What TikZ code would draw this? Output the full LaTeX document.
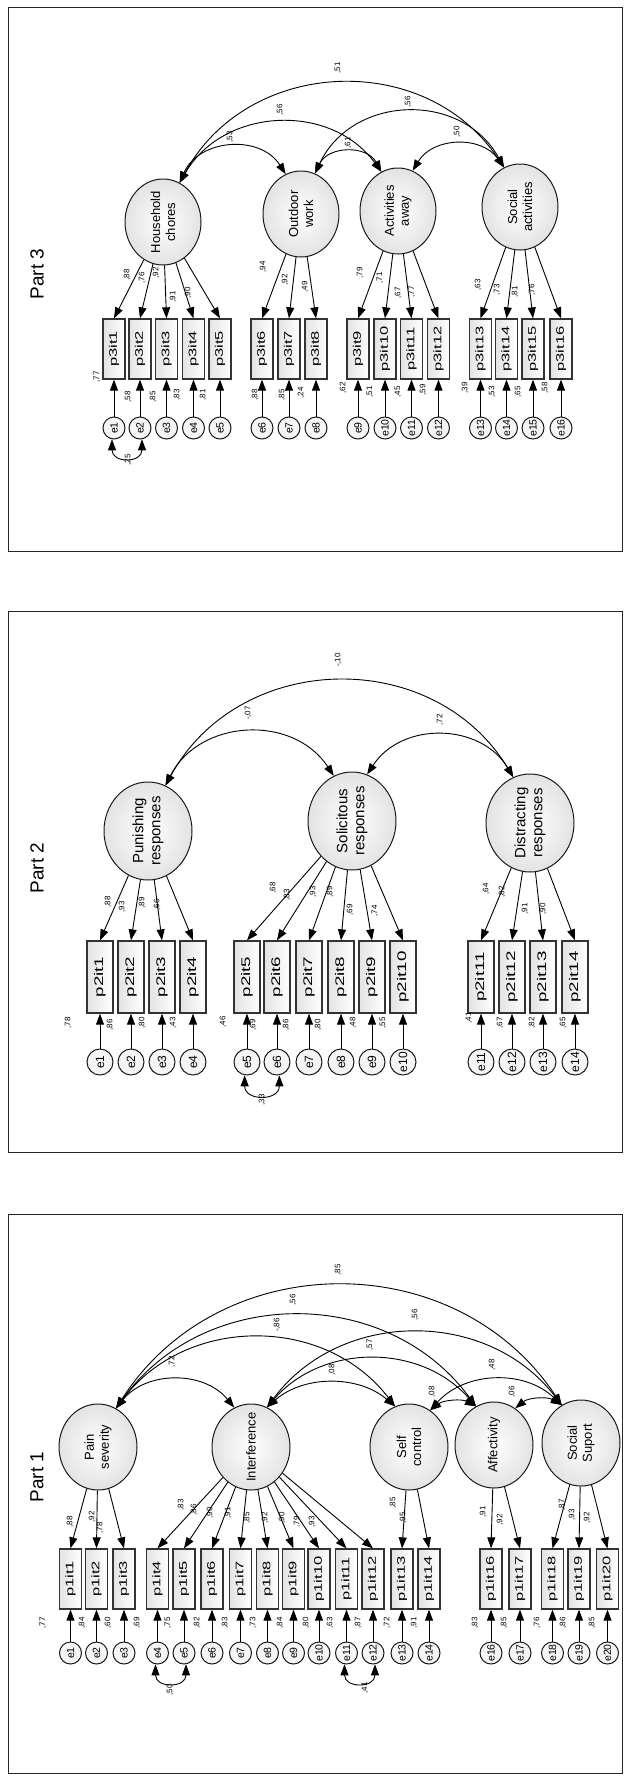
\documentclass[tikz,border=0pt]{standalone}
\usepackage{fontspec}
\setmainfont{Liberation Sans}
\usepackage{graphicx}
\usetikzlibrary{shapes.geometric,arrows.meta}
\newcommand\putlab[4]{\node[lbl,rotate=90] (#1) at (#2,-#3) {#4};}
\newcommand\bxa[1]{\rotatebox{90}{\scalebox{1.5}[1]{#1}}}
\begin{document}
\begin{tikzpicture}[x=1pt,y=1pt,
 frame/.style={draw=black!85,line width=0.9pt},
 part/.style={rotate=90,inner sep=0pt,font=\fontsize{19}{22}\selectfont},
 lbl/.style={inner sep=0pt,font=\fontsize{8}{9}\selectfont},
 latbase/.style={ellipse,draw=black!90,line width=1pt,inner sep=0pt,inner color=white,outer color=gray!22},
 lat3/.style={latbase,minimum width=76pt,minimum height=86pt},
 lat2/.style={latbase,minimum width=88pt,minimum height=98pt},
 lat1/.style={latbase,minimum width=78pt,minimum height=86pt},
 lt3/.style={rotate=90,align=center,inner sep=0pt,font=\fontsize{13}{15}\selectfont},
 lt2/.style={rotate=90,align=center,inner sep=0pt,font=\fontsize{15}{17}\selectfont},
 lt1/.style={rotate=90,align=center,inner sep=0pt,font=\fontsize{13}{15}\selectfont},
 obsbase/.style={rectangle,draw=black!80,line width=1.3pt,inner sep=0pt,left color=gray!22,right color=white},
 obs3/.style={obsbase,minimum width=22pt,minimum height=60pt,font=\fontsize{11}{12}\selectfont},
 obs2/.style={obsbase,minimum width=26pt,minimum height=72pt,font=\fontsize{12.5}{14}\selectfont},
 obs1/.style={obsbase,minimum width=22pt,minimum height=60pt,font=\fontsize{11}{12}\selectfont},
 errbase/.style={circle,draw=black!90,line width=1pt,inner sep=0pt,fill=gray!8},
 err3/.style={errbase,minimum size=22pt,font=\fontsize{10.5}{11}\selectfont},
 err2/.style={errbase,minimum size=26pt,font=\fontsize{12}{13}\selectfont},
 err1/.style={errbase,minimum size=22pt,font=\fontsize{10.5}{11}\selectfont},
 ld/.style={-{Triangle[length=11pt,width=8pt]},line width=0.9pt},
 cov/.style={{Triangle[length=11pt,width=8pt]}-{Triangle[length=11pt,width=8pt]},line width=0.9pt}
]
\useasboundingbox (0,0) rectangle (630,-1780);

% ================= PART 3 =================
\draw[frame] (8,-7) rectangle (622,-551);
\node[part] (P3) at (37,-274) {Part 3};
\node[lat3] (HC) at (163,-222) {};
\node[lt3] (HCt) at (HC) {Household\\chores};
\node[lat3] (OW) at (301,-214) {};
\node[lt3] (OWt) at (OW) {Outdoor\\work};
\node[lat3] (AA) at (398,-211) {};
\node[lt3] (AAt) at (AA) {Activities\\away};
\node[lat3] (SA) at (520,-207) {};
\node[lt3] (SAt) at (SA) {Social\\activities};
\foreach \i/\xx in {1/114,2/140,3/166.5,4/193.5,5/220,6/262,7/289,8/316,9/358,10/385,11/411.5,12/438.5,13/480.5,14/506.5,15/533,16/561}{
  \node[obs3] (c-b\i) at (\xx,-349) {\bxa{p3it\i}};
  \node[err3] (c-e\i) at (\xx,-428) {\rotatebox{90}{e\i}};
  \draw[ld] (c-e\i) -- (c-b\i);
}
\foreach \i in {1,...,5}{\draw[ld] (HC) -- (c-b\i.north);}
\foreach \i in {6,7,8}{\draw[ld] (OW) -- (c-b\i.north);}
\foreach \i in {9,...,12}{\draw[ld] (AA) -- (c-b\i.north);}
\foreach \i in {13,...,16}{\draw[ld] (SA) -- (c-b\i.north);}
\draw[cov] (HC.67) to[bend left=62,looseness=1.15] (OW.111);
\draw[cov] (HC.67) to[bend left=57,looseness=1.1] (AA.113);
\draw[cov] (HC.67) to[bend left=59,looseness=1.12] (SA.112);
\draw[cov] (OW.71) to[bend left=63,looseness=1.18] (AA.113);
\draw[cov] (OW.71) to[bend left=63,looseness=1.18] (SA.112);
\draw[cov] (AA.70) to[bend left=57,looseness=1.1] (SA.112);
\draw[cov] (c-e1.-100) .. controls +(0,-24) and +(0,-24) .. (c-e2.-80);
\putlab{c-a1}{230}{137}{,53}
\putlab{c-a2}{280}{110}{,56}
\putlab{c-a3}{338}{68}{,51}
\putlab{c-a4}{348}{143}{,61}
\putlab{c-a5}{408}{102}{,56}
\putlab{c-a6}{457}{132}{,50}
\putlab{c-l1}{127}{275}{,88}
\putlab{c-l2}{142}{278}{,76}
\putlab{c-l3}{156}{273}{,92}
\putlab{c-l4}{173}{297}{,91}
\putlab{c-l5}{188}{293}{,90}
\putlab{c-l6}{263}{267}{,94}
\putlab{c-l7}{285}{280}{,92}
\putlab{c-l8}{305}{287}{,49}
\putlab{c-l9}{360}{273}{,79}
\putlab{c-l10}{380}{278}{,71}
\putlab{c-l11}{398}{293}{,67}
\putlab{c-l12}{412}{292}{,77}
\putlab{c-l13}{478}{285}{,63}
\putlab{c-l14}{497}{290}{,73}
\putlab{c-l15}{515}{292}{,81}
\putlab{c-l16}{532}{290}{,76}
\putlab{c-r1}{97}{377}{,77}
\putlab{c-r2}{128}{397}{,58}
\putlab{c-r3}{153}{397}{,85}
\putlab{c-r4}{177}{395}{,83}
\putlab{c-r5}{203}{395}{,81}
\putlab{c-r6}{255}{395}{,88}
\putlab{c-r7}{282}{395}{,85}
\putlab{c-r8}{301}{393}{,24}
\putlab{c-r9}{343}{388}{,62}
\putlab{c-r10}{370}{392}{,51}
\putlab{c-r11}{398}{392}{,45}
\putlab{c-r12}{423}{390}{,59}
\putlab{c-r13}{465}{388}{,39}
\putlab{c-r14}{492}{392}{,53}
\putlab{c-r15}{518}{392}{,65}
\putlab{c-r16}{545}{388}{,58}
\putlab{c-c1}{128}{460}{,25}

% ================= PART 2 =================
\draw[frame] (8,-611) rectangle (622,-1152);
\node[part] (P2) at (37,-868) {Part 2};
\node[lat2] (PR) at (148,-831) {};
\node[lt2] (PRt) at (PR) {Punishing\\responses};
\node[lat2] (SR) at (352,-821) {};
\node[lt2] (SRt) at (SR) {Solicitous\\responses};
\node[lat2] (DR) at (530,-823) {};
\node[lt2] (DRt) at (DR) {Distracting\\responses};
\foreach \i/\xx in {1/100,2/131,3/162,4/193,5/247,6/277,7/309,8/341,9/372,10/403,11/481,12/512,13/543,14/575}{
  \node[obs2] (b-b\i) at (\xx,-977) {\bxa{p2it\i}};
  \node[err2] (b-e\i) at (\xx,-1062) {\rotatebox{90}{e\i}};
  \draw[ld] (b-e\i) -- (b-b\i);
}
\foreach \i in {1,...,4}{\draw[ld] (PR) -- (b-b\i.north);}
\foreach \i in {5,...,10}{\draw[ld] (SR) -- (b-b\i.north);}
\foreach \i in {11,...,14}{\draw[ld] (DR) -- (b-b\i.north);}
\draw[cov] (PR.69) to[bend left=60,looseness=1.13] (SR.112);
\draw[cov] (SR.72) to[bend left=58,looseness=1.11] (DR.110);
\draw[cov] (PR.69) to[bend left=60,looseness=1.13] (DR.110);
\draw[cov] (b-e5.-100) .. controls +(0,-26) and +(0,-26) .. (b-e6.-80);
\putlab{b-a1}{248}{713}{-,07}
\putlab{b-a2}{440}{720}{,72}
\putlab{b-a3}{338}{660}{-,10}
\putlab{b-l1}{108}{902}{,88}
\putlab{b-l2}{122}{907}{,93}
\putlab{b-l3}{142}{903}{,89}
\putlab{b-l4}{157}{905}{,66}
\putlab{b-l5}{273}{888}{,68}
\putlab{b-l6}{287}{895}{,83}
\putlab{b-l7}{313}{892}{,93}
\putlab{b-l8}{330}{892}{,89}
\putlab{b-l9}{350}{910}{,69}
\putlab{b-l10}{375}{911}{,74}
\putlab{b-l11}{486}{889}{,64}
\putlab{b-l12}{502}{892}{,82}
\putlab{b-l13}{525}{909}{,91}
\putlab{b-l14}{543}{909}{,90}
\putlab{b-r1}{68}{1023}{,78}
\putlab{b-r2}{110}{1025}{,86}
\putlab{b-r3}{142}{1023}{,80}
\putlab{b-r4}{173}{1023}{,43}
\putlab{b-r5}{223}{1022}{,46}
\putlab{b-r6}{253}{1025}{,69}
\putlab{b-r7}{286}{1025}{,86}
\putlab{b-r8}{318}{1025}{,80}
\putlab{b-r9}{353}{1023}{,48}
\putlab{b-r10}{383}{1023}{,55}
\putlab{b-r11}{469}{1018}{,41}
\putlab{b-r12}{500}{1023}{,67}
\putlab{b-r13}{532}{1023}{,82}
\putlab{b-r14}{563}{1023}{,65}
\putlab{b-c1}{262}{1100}{,33}

% ================= PART 1 =================
\draw[frame] (8,-1214) rectangle (622,-1773);
\node[part] (P1) at (37,-1477) {Part 1};
\node[lat1] (PS) at (98,-1447) {};
\node[lt1] (PSt) at (PS) {Pain\\severity};
\node[lat1] (INT) at (251,-1447) {};
\node[lt1] (INTt) at (INT) {Interference};
\node[lat1] (SC) at (409,-1447) {};
\node[lt1] (SCt) at (SC) {Self\\control};
\node[lat1] (AF) at (494,-1445) {};
\node[lt1] (AFt) at (AF) {Affectivity};
\node[lat1] (SS) at (581,-1443) {};
\node[lt1] (SSt) at (SS) {Social\\Suport};
\foreach \i/\xx in {1/70.5,2/96.5,3/124,4/157.5,5/184,6/212,7/240.5,8/267.5,9/293.5,10/319,11/346.5,12/373,13/402,14/429,16/491,17/520,18/552.5,19/579,20/607.5}{
  \node[obs1] (a-b\i) at (\xx,-1579) {\bxa{p1it\i}};
  \node[err1] (a-e\i) at (\xx,-1653) {\rotatebox{90}{e\i}};
  \draw[ld] (a-e\i) -- (a-b\i);
}
\foreach \i in {1,2,3}{\draw[ld] (PS) -- (a-b\i.north);}
\foreach \i in {4,...,12}{\draw[ld] (INT) -- (a-b\i.north);}
\foreach \i in {13,14}{\draw[ld] (SC) -- (a-b\i.north);}
\foreach \i in {16,17}{\draw[ld] (AF) -- (a-b\i.north);}
\foreach \i in {18,19,20}{\draw[ld] (SS) -- (a-b\i.north);}
\draw[cov] (PS.65) to[bend left=51,looseness=1.04] (INT.113);
\draw[cov] (PS.65) to[bend left=53,looseness=1.06] (SC.109);
\draw[cov] (PS.65) to[bend left=54,looseness=1.07] (AF.115);
\draw[cov] (PS.65) to[bend left=57,looseness=1.10] (SS.117);
\draw[cov] (INT.68) to[bend left=41,looseness=0.97] (SC.109);
\draw[cov] (INT.68) to[bend left=49,looseness=1.03] (AF.115);
\draw[cov] (INT.68) to[bend left=53,looseness=1.06] (SS.117);
\draw[cov] (SC.60) to[bend left=33,looseness=0.92] (AF.115);
\draw[cov] (SC.60) to[bend left=46,looseness=1.01] (SS.117);
\draw[cov] (AF.60) to[bend left=35,looseness=0.93] (SS.117);
\draw[cov] (a-e4.-100) .. controls +(0,-24) and +(0,-24) .. (a-e5.-80);
\draw[cov] (a-e11.-100) .. controls +(0,-24) and +(0,-24) .. (a-e12.-80);
\putlab{a-a1}{172}{1362}{,72}
\putlab{a-a2}{277}{1325}{-,86}
\putlab{a-a3}{293}{1300}{,56}
\putlab{a-a4}{338}{1270}{,85}
\putlab{a-a5}{332}{1370}{,08}
\putlab{a-a6}{370}{1345}{,57}
\putlab{a-a7}{415}{1315}{,56}
\putlab{a-a8}{492}{1365}{,48}
\putlab{a-a9}{432}{1392}{,08}
\putlab{a-a10}{512}{1392}{,06}
\putlab{a-l1}{70}{1522}{,88}
\putlab{a-l2}{92}{1517}{,92}
\putlab{a-l3}{100}{1528}{,78}
\putlab{a-l4}{181}{1505}{,83}
\putlab{a-l5}{194}{1510}{,86}
\putlab{a-l6}{210}{1513}{,90}
\putlab{a-l7}{228}{1513}{,91}
\putlab{a-l8}{247}{1518}{,85}
\putlab{a-l9}{265}{1518}{,92}
\putlab{a-l10}{282}{1518}{,90}
\putlab{a-l11}{297}{1522}{,79}
\putlab{a-l12}{312}{1522}{,93}
\putlab{a-l13}{393}{1503}{,85}
\putlab{a-l14}{403}{1518}{,95}
\putlab{a-l16}{483}{1512}{,91}
\putlab{a-l17}{500}{1520}{,92}
\putlab{a-l18}{562}{1505}{,87}
\putlab{a-l19}{572}{1515}{,93}
\putlab{a-l20}{587}{1518}{,92}
\putlab{a-r1}{43}{1623}{,77}
\putlab{a-r2}{82}{1623}{,84}
\putlab{a-r3}{108}{1623}{,60}
\putlab{a-r4}{137}{1623}{,69}
\putlab{a-r5}{168}{1623}{,75}
\putlab{a-r6}{197}{1623}{,82}
\putlab{a-r7}{225}{1623}{,83}
\putlab{a-r8}{253}{1623}{,73}
\putlab{a-r9}{280}{1623}{,84}
\putlab{a-r10}{306}{1623}{,80}
\putlab{a-r11}{330}{1623}{,63}
\putlab{a-r12}{358}{1623}{,87}
\putlab{a-r13}{387}{1623}{,72}
\putlab{a-r14}{414}{1623}{,91}
\putlab{a-r16}{475}{1623}{,83}
\putlab{a-r17}{504}{1623}{,85}
\putlab{a-r18}{537}{1623}{,76}
\putlab{a-r19}{563}{1623}{,86}
\putlab{a-r20}{592}{1623}{,85}
\putlab{a-c1}{170}{1690}{,50}
\putlab{a-c2}{365}{1688}{,41}
\end{tikzpicture}
\end{document}
